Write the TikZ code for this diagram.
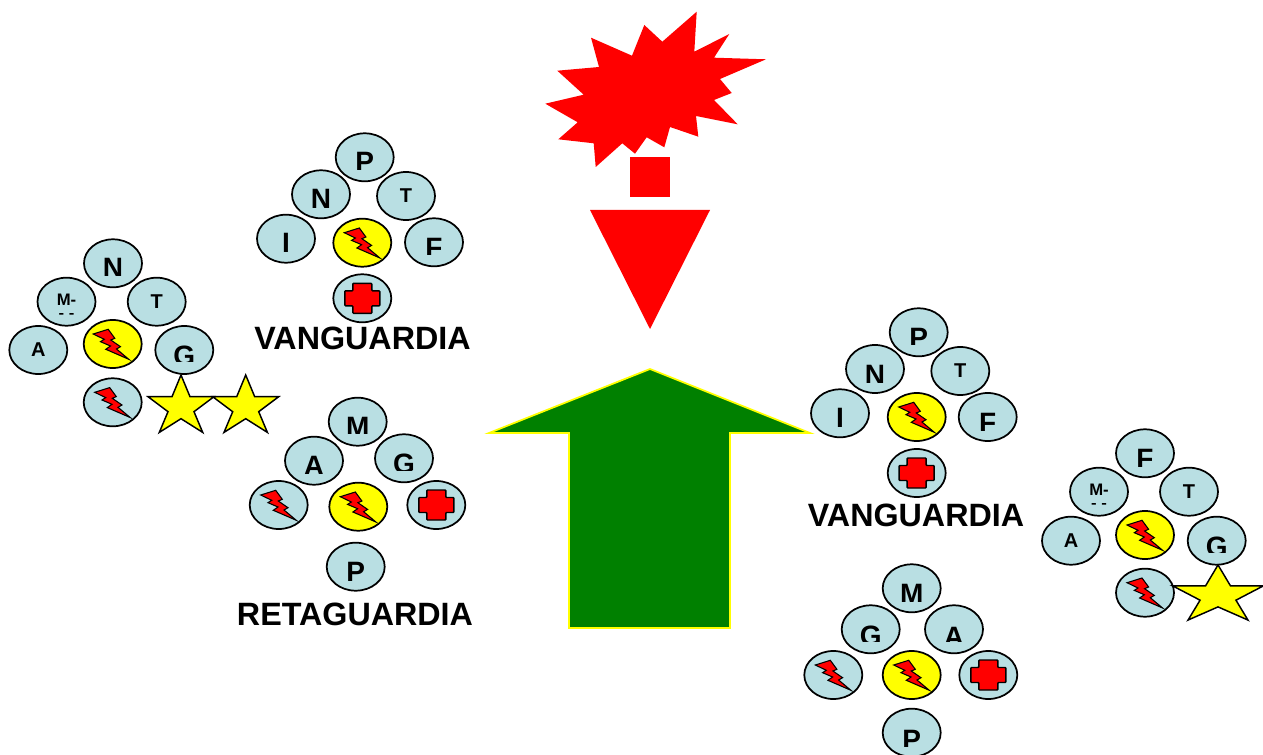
\documentclass[tikz,border=0pt]{standalone}
\usepackage{fontspec}
\setmainfont{Liberation Sans}
\usetikzlibrary{shapes,calc}
\definecolor{lcunit}{HTML}{B9DFE3}
\definecolor{lcgreen}{HTML}{008000}
\definecolor{lcred}{HTML}{FF0000}
\definecolor{lcyellow}{HTML}{FFFF00}
% large letter, cut off at the bottom by its text box
\newcommand{\cutletter}[4]{%
  \begin{scope}
    \clip ($(#1.center)+(-29,-24)$) rectangle ($(#1.center)+(29,#4)$);
    \node [biglet] (#1let) at ($(#1.center)+(0,#3+20)$) {#2};
  \end{scope}}
% only the top of the second line of the M- units is left
\newcommand{\cutdashes}[1]{%
  \begin{scope}
    \clip ($(#1.center)+(-29,11.8)$) rectangle ($(#1.center)+(29,13.4)$);
    \node [minilet, anchor=base] (#1let) at ($(#1.center)+(0,17)$) {- -};
  \end{scope}}

\begin{document}
\begin{tikzpicture}[x=0.75pt, y=-0.75pt]
\useasboundingbox (0,0) rectangle (1263,755);
% -------------------------------------------------
% Styles for the units, their letters and their marks
\tikzset{
  unit/.style={draw, ellipse, fill=lcunit, line width=1.3pt, inner sep=0pt,
    minimum width=43.5pt, minimum height=36pt},
  yunit/.style={unit, fill=lcyellow},
  biglet/.style={anchor=base, inner sep=0pt, font=\fontsize{21}{21}\selectfont\bfseries},
  smalllet/.style={font=\fontsize{15}{15}\selectfont\bfseries},
  minilet/.style={inner sep=0pt, font=\fontsize{12.5}{12.5}\selectfont\bfseries},
  title/.style={anchor=base, inner sep=0pt, font=\fontsize{24.2}{24.2}\selectfont\bfseries},
  bolt/.pic={
    \draw [fill=lcred, line width=0.8pt, line join=miter] (-18,-10) -- (-3,-14.7) -- (3.6,-5.7)
      -- (-0.4,-4) -- (9.3,2.7) -- (5.3,5) -- (17.6,15.3) -- (-5.4,5.3) -- (-0.7,2)
      -- (-10.7,-2.3) -- (-7,-4.7) -- cycle;
  },
  medic/.pic={
    \draw [fill=lcred, line width=1.1pt, rounded corners=0.6pt] (-9.5,-15) -- (9.5,-15) -- (9.5,-7.5)
      -- (17.5,-7.5) -- (17.5,7.5) -- (9.5,7.5) -- (9.5,15) -- (-9.5,15) -- (-9.5,7.5)
      -- (-17.5,7.5) -- (-17.5,-7.5) -- (-9.5,-7.5) -- cycle;
  },
  goldstar/.pic={
    \draw [fill=lcyellow, line width=1.1pt] (0,-28.7) -- (9,-7) -- (33,-7) -- (13,8) -- (21.7,28.7)
      -- (0,15) -- (-21.7,28.7) -- (-13,8) -- (-33,-7) -- (-9,-7) -- cycle;
  }
}
% -------------------------------------------------
% Explosion, then the two big arrows in the middle
\fill [lcred] (696.7,11.7) -- (694.3,51.7) -- (729.3,34) -- (714,57.7) -- (766,59.3)
  -- (720,79) -- (731.7,93) -- (714,100) -- (737.7,124.3) -- (696,116) -- (698.3,136.7)
  -- (670,127) -- (664.3,147.3) -- (646.7,137.3) -- (635,153.7) -- (622.3,143.3)
  -- (595.7,167) -- (593.7,143.3) -- (558.3,139.3) -- (577.7,122.3) -- (545.3,103.7)
  -- (583.7,94.7) -- (557.3,70.7) -- (599,67) -- (591,37.7) -- (632,55.7) -- (644.3,25)
  -- (662.3,41.7) -- cycle;
\fill [lcred] (630,157) rectangle (670,197);
\fill [lcred] (590,210) -- (710,210) -- (650,329) -- cycle;
\draw [fill=lcgreen, draw=lcyellow, line width=1.3pt] (650,369) -- (810,433) -- (730,433)
  -- (730,628) -- (569,628) -- (569,433) -- (489,433) -- cycle;

% -------------------------------------------------
% Left group with two stars
\node [unit] (a1) at (113,263.3) {};
\node [unit] (a2) at (66.5,301.7) {};
\node [unit, smalllet] (a3) at (156.7,301.7) {T};
\node [unit, smalllet] (a4) at (38.3,350) {A};
\node [yunit] (a5) at (112.7,344) {};
\node [unit] (a6) at (184.3,350) {};
\node [unit] (a7) at (112.7,402.3) {};
\cutletter{a1}{N}{-6}{12.4}
\node [minilet] (a2let) at ($(a2.center)+(0,-1.7)$) {M-};
\cutdashes{a2}
\cutletter{a6}{G}{-4}{11.7}
\pic (a5b) at ($(a5.center)+(-1.5,0)$) {bolt};
\pic (a7b) at (a7.center) {bolt};
\pic (as1) at (181,403.7) {goldstar};
\pic (as2) at (245.7,403.7) {goldstar};

% -------------------------------------------------
% VANGUARDIA, upper left
\node [unit] (b1) at (364.7,157.3) {};
\node [unit] (b2) at (321,194.3) {};
\node [unit, smalllet] (b3) at (406,196) {T};
\node [unit] (b4) at (286,238.7) {};
\node [yunit] (b5) at (362.3,242.7) {};
\node [unit] (b6) at (434,242.3) {};
\node [unit] (b7) at (362.3,298.3) {};
\cutletter{b1}{P}{-5.6}{12.7}
\cutletter{b2}{N}{-6}{13}
\cutletter{b4}{I}{-6}{13.6}
\cutletter{b6}{F}{-5}{12.7}
\pic (b5b) at (b5.center) {bolt};
\pic (b7m) at (b7.center) {medic};
\node [title] (b8) at (362.5,350) {VANGUARDIA};

% -------------------------------------------------
% RETAGUARDIA, lower left
\node [unit] (c1) at (357.7,421.7) {};
\node [unit] (c2) at (314,460.7) {};
\node [unit] (c3) at (404,458.3) {};
\node [unit] (c4) at (278.7,505) {};
\node [yunit] (c5) at (358.3,506.7) {};
\node [unit] (c6) at (436.3,505) {};
\node [unit] (c7) at (355.7,566.7) {};
\cutletter{c1}{M}{-5.7}{11.7}
\cutletter{c2}{A}{-5}{12.6}
\cutletter{c3}{G}{-5}{11.7}
\cutletter{c7}{P}{-5}{13.3}
\pic (c4b) at (c4.center) {bolt};
\pic (c5b) at (c5.center) {bolt};
\pic (c6m) at (c6.center) {medic};
\node [title] (c8) at (355,625) {RETAGUARDIA};

% -------------------------------------------------
% VANGUARDIA, right
\node [unit] (d1) at (918.7,332.3) {};
\node [unit] (d2) at (875,369) {};
\node [unit, smalllet] (d3) at (960.3,371) {T};
\node [unit] (d4) at (840,413.3) {};
\node [yunit] (d5) at (916.7,417) {};
\node [unit] (d6) at (987.7,417) {};
\node [unit] (d7) at (916.7,473) {};
\cutletter{d1}{P}{-5}{12.7}
\cutletter{d2}{N}{-5}{13.3}
\cutletter{d4}{I}{-6}{13.3}
\cutletter{d6}{F}{-4.7}{13}
\pic (d5b) at (d5.center) {bolt};
\pic (d7m) at (d7.center) {medic};
\node [title] (d8) at (916,526.7) {VANGUARDIA};

% -------------------------------------------------
% Right group with one star
\node [unit] (e1) at (1145,453.3) {};
\node [unit] (e2) at (1099,491.7) {};
\node [unit, smalllet] (e3) at (1189,491.7) {T};
\node [unit, smalllet] (e4) at (1071,540.7) {A};
\node [yunit] (e5) at (1145,535) {};
\node [unit] (e6) at (1216.7,540.7) {};
\node [unit] (e7) at (1145,592.7) {};
\cutletter{e1}{F}{-5}{12.7}
\node [minilet] (e2let) at ($(e2.center)+(0,-1.7)$) {M-};
\cutdashes{e2}
\cutletter{e6}{G}{-4}{12}
\pic (e5b) at (e5.center) {bolt};
\pic (e7b) at (e7.center) {bolt};
\pic [xscale=1.38, yscale=0.96] (es1) at (1218,592.5) {goldstar};

% -------------------------------------------------
% Bottom group
\node [unit] (f1) at (911.7,588.3) {};
\node [unit] (f2) at (870.7,629.3) {};
\node [unit] (f3) at (954,629.3) {};
\node [unit] (f4) at (833.3,675) {};
\node [yunit] (f5) at (911.7,675) {};
\node [unit] (f6) at (988.3,675) {};
\node [unit] (f7) at (911.7,732.7) {};
\cutletter{f1}{M}{-5}{12.7}
\cutletter{f2}{G}{-3.6}{12.4}
\cutletter{f3}{A}{-2.6}{12.4}
\cutletter{f7}{P}{-3.7}{13.3}
\pic (f4b) at (f4.center) {bolt};
\pic (f5b) at (f5.center) {bolt};
\pic (f6m) at (f6.center) {medic};
% -------------------------------------------------
\end{tikzpicture}
\end{document}
